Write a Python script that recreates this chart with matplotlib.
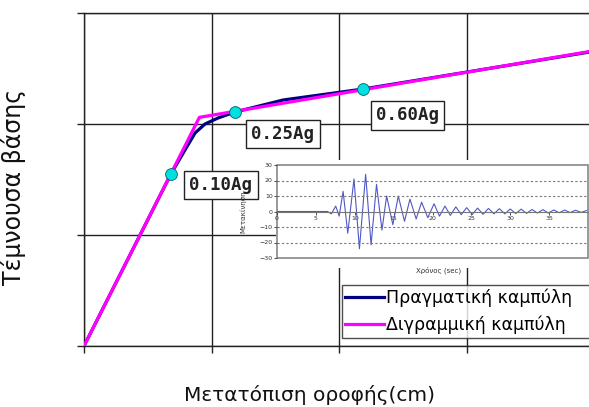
import matplotlib
matplotlib.use("Agg")
import matplotlib.pyplot as plt
from matplotlib.patches import Rectangle

# pushover curves (x: roof displacement, y: base shear), grid units
real_x = [0.0, 0.682, 0.792, 0.871, 0.949, 1.051, 1.184, 1.561, 2.188, 3.004, 4.0]
real_y = [0.0, 1.55, 1.766, 1.919, 2.0, 2.054, 2.108, 2.216, 2.315, 2.468, 2.655]
bilin_x = [0.0, 0.905, 4.0]
bilin_y = [0.0, 2.06, 2.66]

# performance points
pts_x = [0.682, 1.184, 2.188]
pts_y = [1.55, 2.108, 2.315]
pts_lbl = ["0.10Ag", "0.25Ag", "0.60Ag"]

# inset: displacement time history (extrema)
t_hist = [0, 6.5, 7.0, 7.55, 8.0, 8.5, 9.1, 9.9, 10.6, 11.4, 12.1, 12.8, 13.5, 14.1,
          14.9, 15.6, 16.4, 17.1, 17.9, 18.6, 19.4, 20.2, 20.9, 21.6, 22.3, 23.0,
          23.7, 24.4, 25.1, 25.8, 26.5, 27.2, 27.9, 28.6, 29.3, 30.0, 30.7, 31.4,
          32.1, 32.8, 33.5, 34.2, 34.9, 35.6, 36.3, 37.0, 37.7, 38.4, 39.1, 39.8]
d_hist = [0, 0, -1.5, 3.5, -3, 13, -14, 21, -24, 24, -21.5, 17.5, -12, 10,
          -8.5, 10, -6.3, 8, -4.8, 6, -4, 5, -3, 3.5, -2.5, 3,
          -2, 2.5, -2, 2.2, -1.8, 2, -1.5, 1.8, -1.5, 1.6, -1.3, 1.5,
          -1.2, 1.3, -1, 1.2, -1, 1, -0.8, 0.9, -0.7, 0.8, -0.6, 0.6]

W, H = 589, 407
fig = plt.figure(figsize=(W / 100, H / 100), dpi=100)
ax = fig.add_axes([84 / W, 61 / H, 510 / W, 333 / H])

ax.plot(real_x, real_y, color="#000080", lw=2.3, zorder=3, label="Πραγματική καμπύλη")
ax.plot(bilin_x, bilin_y, color="#ff00ff", lw=2.3, zorder=4, label="Διγραμμική καμπύλη")
ax.plot(pts_x, pts_y, "o", ms=8.5, mfc="#00e0e0", mec="#006060", mew=0.6, zorder=5)

offsets = [(36, -8), (34.5, -16), (32, -19)]
for x, y, lbl, off in zip(pts_x, pts_y, pts_lbl, offsets):
    ax.annotate(lbl, (x, y), xytext=off, textcoords="offset points", ha="center",
                va="center", fontsize=12.5, fontweight="bold", family="DejaVu Sans Mono",
                color="#222222",
                bbox=dict(boxstyle="square,pad=0.3", fc="white", ec="#222222", lw=1),
                zorder=6)

ax.set_xlim(0, 4)
ax.set_ylim(0, 3)
ax.set_xticks([0, 1, 2, 3, 4])
ax.set_yticks([0, 1, 2, 3])
ax.set_xticklabels([])
ax.set_yticklabels([])
ax.tick_params(direction="out", length=5, width=1, color="#222222")
ax.grid(True, color="#222222", lw=1)
for s in ax.spines.values():
    s.set_color("#222222")
    s.set_linewidth(1)

ax.set_xlabel("Μετατόπιση οροφής(cm)", fontsize=14.5, color="#111111")
ax.xaxis.set_label_coords(0.443, -0.117)
ax.set_ylabel("Τέμνουσα βάσης", fontsize=17, color="#111111")
ax.yaxis.set_label_coords(-0.113, 0.477)

# legend box runs off the right edge, as in the source picture
leg = ax.legend(loc="upper left", bbox_to_anchor=(342 / W, 1 - 341 / H, 260 / W, 56 / H),
                bbox_transform=fig.transFigure, mode="expand", fontsize=12.5,
                frameon=True, fancybox=False, borderaxespad=0, handlelength=2.2,
                handletextpad=0.15, borderpad=0.2, labelspacing=0.5)
leg.get_frame().set_edgecolor("#222222")
leg.get_frame().set_linewidth(1)
leg.set_zorder(10)

# white backing behind the inset chart
fig.patches.append(Rectangle((276 / W, 1 - 268 / H), (W - 276) / W, 108 / H,
                             transform=fig.transFigure, fc="white", ec="none", zorder=1))

ins = fig.add_axes([277 / W, 1 - 258 / H, 311 / W, 93 / H])
ins.set_zorder(2)
ins.plot(t_hist, d_hist, color="#5058c4", lw=0.8)
ins.set_xlim(0, 40)
ins.set_ylim(-30, 30)
ins.set_xticks([0, 5, 10, 15, 20, 25, 30, 35])
ins.set_yticks([-30, -20, -10, 0, 10, 20, 30])
for v in [-20, -10, 10, 20]:
    ins.axhline(v, color="#777777", lw=0.8, ls=(0, (2, 2)))
ins.spines["bottom"].set_position(("data", 0))
ins.spines["bottom"].set_color("#777777")
ins.add_patch(Rectangle((0, 0), 1, 1, transform=ins.transAxes, fill=False,
                        ec="#888888", lw=1.2, clip_on=False))
for s in ["top", "right", "left"]:
    ins.spines[s].set_visible(False)
ins.tick_params(labelsize=4.5, length=2, width=0.6, colors="#333333", pad=1)
ins.set_xlabel("Χρόνος (sec)", fontsize=5, color="#333333", labelpad=1)
ins.xaxis.set_label_coords(0.52, -0.09)
ins.set_ylabel("Μετακίνηση", fontsize=5, color="#333333")
ins.yaxis.set_label_coords(-0.1, 0.5)

fig.savefig("out.png", dpi=100)
